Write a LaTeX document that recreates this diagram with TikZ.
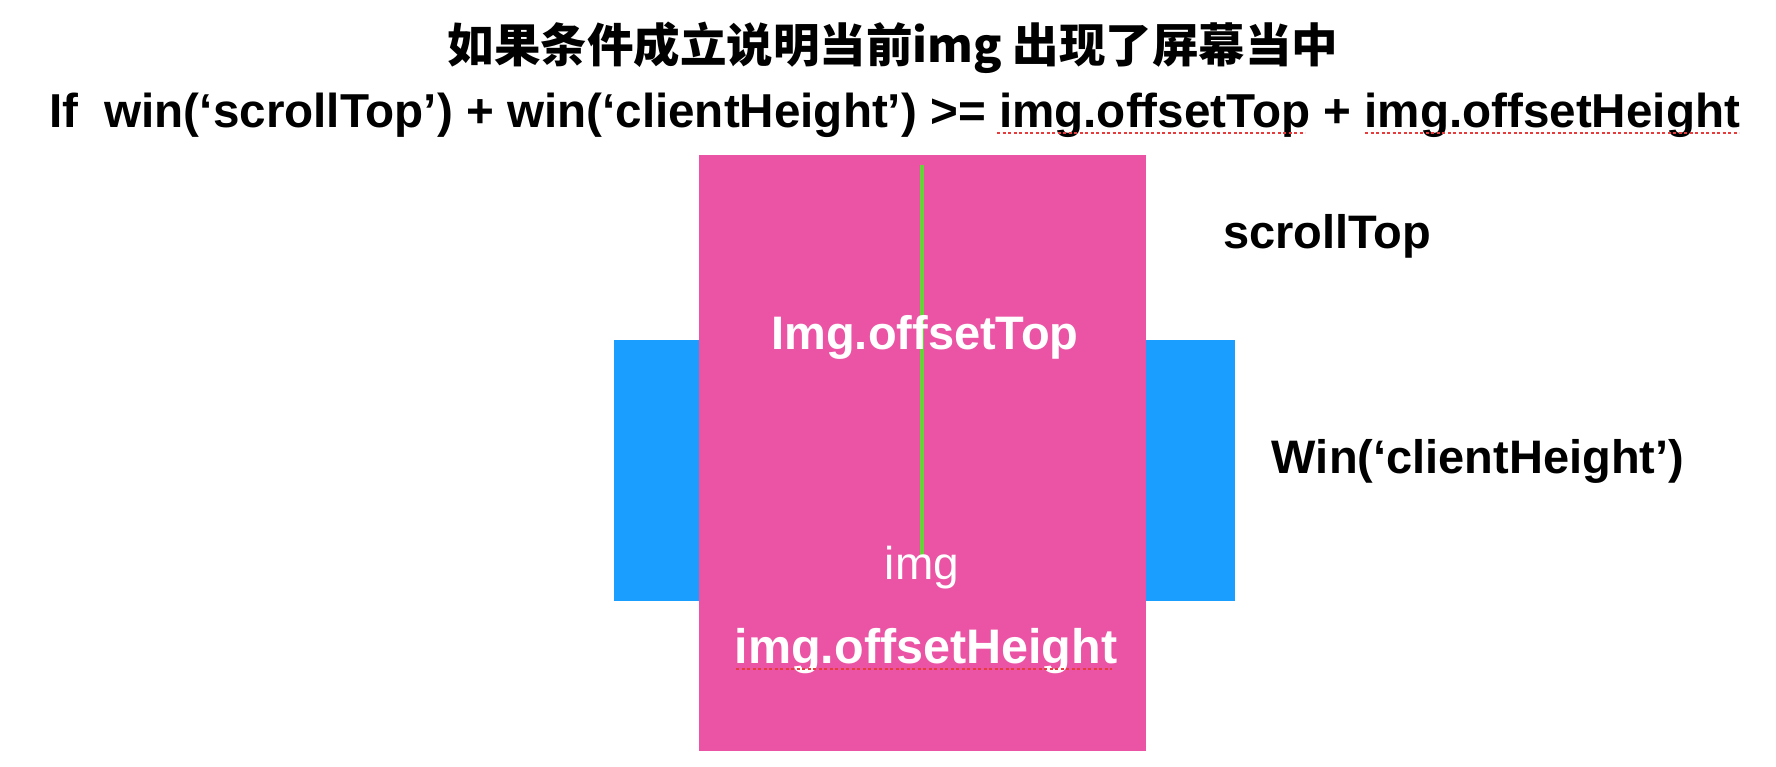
\documentclass[tikz,border=0pt]{standalone}
\usepackage{fontspec}
\setmainfont{Liberation Sans}
\newfontfamily\cjk{Noto Sans CJK SC}
\usetikzlibrary{positioning}
\definecolor{imgpink}{RGB}{235,84,165}
\definecolor{winblue}{RGB}{26,158,255}
\definecolor{linegreen}{RGB}{102,212,56}
\definecolor{spellred}{RGB}{232,60,60}

\begin{document}
\begin{tikzpicture}[x=1pt,y=-1pt,font=\fontsize{47}{56}\selectfont\bfseries]
  \tikzset{winbox/.style={fill=winblue, inner sep=0pt, minimum width=621pt, minimum height=261pt},
    imgbox/.style={fill=imgpink, inner sep=0pt, minimum width=447pt, minimum height=596pt},
    blacktext/.style={text=black, inner sep=0pt, anchor=base},
    whitetext/.style={text=white, inner sep=0pt, anchor=base},
    squiggle/.style={spellred, line width=2.5pt, dash pattern=on 3pt off 2.5pt},
    scrollline/.style={linegreen, line width=4pt}}
  \useasboundingbox (0,0) rectangle (1776,766);
  % window and image
  \node[winbox] (win) at (924.5,470.5) {};
  \node[imgbox] (img) at (922.5,453) {};
  \coordinate (linetop) at (922,165);
  \coordinate (lineend) at (922,555);
  \draw[scrollline] (linetop) -- (lineend);
  % headline
  \node[text=black, inner sep=0pt] (title) at (893,48) {\fontsize{46.5}{56}\selectfont\cjk\bfseries 如果条件成立说明当前img 出现了屏幕当中};
  \node[blacktext, font=\fontsize{47.6}{56}\selectfont\bfseries] (cond) at (894.5,127) {If\ \ win(‘scrollTop’) + win(‘clientHeight’) >= img.offsetTop + img.offsetHeight};
  \draw[squiggle] (997,133) -- (1305,133);
  \draw[squiggle] (1365,133) -- (1739,133);
  % labels
  \node[blacktext] (scroll) at (1327,248) {scrollTop};
  \node[blacktext] (client) at (1478,473) {Win(‘clientHeight’)};
  \node[whitetext] (top) at (925,349) {Img.offsetTop};
  \node[whitetext, font=\fontsize{46}{55}\selectfont\mdseries] (imgname) at (922,579) {img};
  \node[whitetext, font=\fontsize{48.5}{56}\selectfont\bfseries] (height) at (926,663) {img.offsetHeight};
  \draw[squiggle] (736,669) -- (1112,669);
\end{tikzpicture}
\end{document}
